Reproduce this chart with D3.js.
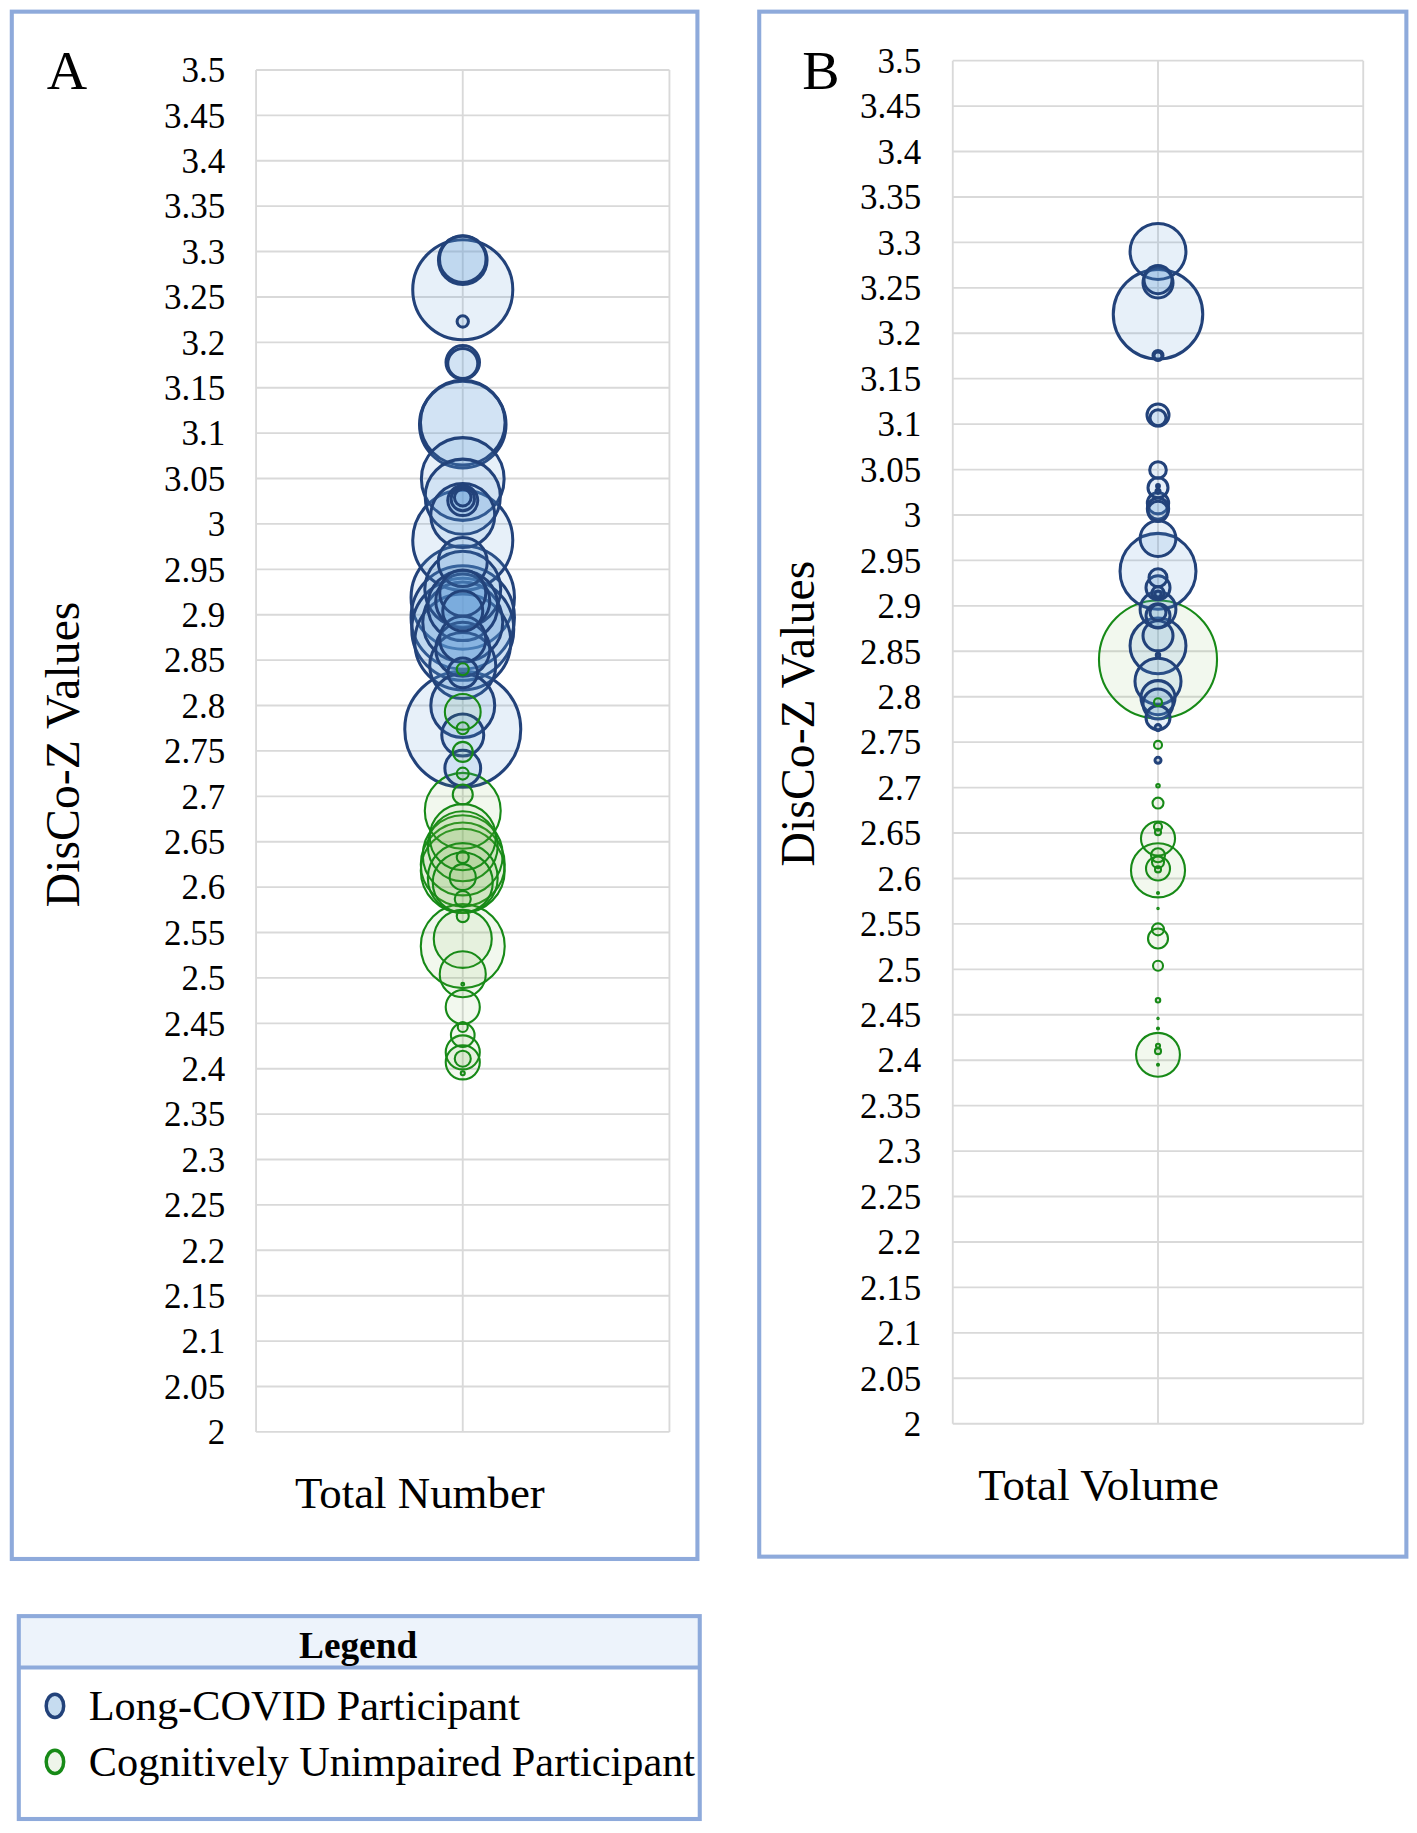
<!DOCTYPE html>
<html>
<head>
<meta charset="utf-8">
<script src="https://cdn.jsdelivr.net/npm/d3@7"></script>
<style>
  html, body { margin: 0; padding: 0; background: #ffffff; }
  svg { display: block; }
</style>
</head>
<body>
<svg id="chart"></svg>
<script>
// ---------------- DATA ----------------
const yTickLabels = ["2", "2.05", "2.1", "2.15", "2.2", "2.25", "2.3", "2.35", "2.4", "2.45",
  "2.5", "2.55", "2.6", "2.65", "2.7", "2.75", "2.8", "2.85", "2.9", "2.95",
  "3", "3.05", "3.1", "3.15", "3.2", "3.25", "3.3", "3.35", "3.4", "3.45", "3.5"];
const panelLetters = ["A", "B"];
const xCategories = ["Total Number", "Total Volume"];
const yTitle = "DisCo-Z Values";
const seriesNames = ["Long-COVID Participant", "Cognitively Unimpaired Participant"];
const legendTitle = "Legend";

// [DisCo-Z value, bubble size]
const numberLongCovid = [
  [3.2905, 59], [3.2916, 54], [3.258, 250], [3.223, 3.2], [3.178, 28], [3.1767, 22.5],
  [3.1094, 187], [3.1116, 179], [3.0495, 171], [3.030, 141], [3.0257, 22.5], [3.0275, 13.7],
  [3.029, 6.9], [3.0093, 102], [2.982, 250], [2.958, 60], [2.928, 144], [2.924, 53],
  [2.919, 267], [2.915, 73], [2.91, 122], [2.904, 40], [2.897, 267], [2.892, 160],
  [2.884, 260], [2.873, 53], [2.87, 230], [2.862, 73], [2.844, 109], [2.836, 22],
  [2.80, 102], [2.774, 336], [2.7675, 44], [2.731, 32]
];
const numberUnimpaired = [
  [2.84, 3.6], [2.793, 32], [2.775, 3.6], [2.749, 10], [2.725, 3.6], [2.702, 10],
  [2.684, 144], [2.655, 109], [2.645, 122], [2.635, 160], [2.633, 3.6], [2.625, 176],
  [2.618, 176], [2.611, 17], [2.61, 122], [2.605, 90], [2.587, 6.4], [2.568, 3.6],
  [2.543, 84], [2.535, 176], [2.504, 53], [2.493, 0.2], [2.468, 29], [2.446, 2.5],
  [2.437, 14], [2.418, 29], [2.411, 6.4], [2.407, 29], [2.395, 0.4]
];
const volumeLongCovid = [
  [3.290, 78], [3.259, 19.6], [3.2554, 22.5], [3.221, 200], [3.1756, 2.5], [3.175, 1.6],
  [3.110, 12.1], [3.107, 6.4], [3.0495, 6.9], [3.032, 0.2], [3.030, 10], [3.026, 0.4],
  [3.013, 11.4], [3.007, 11.4], [3.004, 10], [2.974, 32], [2.938, 144], [2.931, 8.1],
  [2.920, 14.4], [2.9145, 3.6], [2.913, 0.9], [2.896, 32], [2.8926, 6.4], [2.889, 14.4],
  [2.867, 22.5], [2.856, 78], [2.846, 0.3], [2.817, 53], [2.799, 29], [2.792, 22.5],
  [2.777, 14.4], [2.766, 0.9], [2.730, 0.9]
];
const volumeUnimpaired = [
  [2.841, 348], [2.794, 1.6], [2.747, 1.6], [2.702, 0.3], [2.683, 3], [2.657, 1.6],
  [2.651, 0.9], [2.644, 29], [2.6255, 4.9], [2.618, 3.6], [2.611, 14.4], [2.610, 0.9],
  [2.609, 73], [2.584, 0.1], [2.567, 0.05], [2.544, 3.6], [2.534, 10], [2.504, 2.5],
  [2.466, 0.5], [2.446, 0.05], [2.435, 0.1], [2.416, 0.4], [2.41, 0.9], [2.406, 48],
  [2.395, 0.1]
];

// ---------------- STYLE / LAYOUT ----------------
const W = 1417, H = 1833, VW = 1215, VH = 1572;
const FONT = "'Liberation Serif', 'Times New Roman', serif";
const frameColor = "#8eaadb";
const gridColor = "#d9d9d9";
const seriesStyle = [
  { stroke: "#22427a", fill: "#5b9bd5", fillOpacity: 0.15, strokeWidth: 2.6 },
  { stroke: "#178a17", fill: "#70ad47", fillOpacity: 0.09, strokeWidth: 1.8 }
];

const svg = d3.select("#chart")
  .attr("width", W).attr("height", H)
  .attr("viewBox", `0 0 ${VW} ${VH}`);

svg.append("rect").attr("x", 0).attr("y", 0).attr("width", VW).attr("height", VH).attr("fill", "#fff");

const rScale = d3.scaleSqrt().domain([0, 250]).range([0, 42.9]);
const tickValues = yTickLabels.map(Number);

const panels = [
  {
    frame: { x: 10, y: 10, w: 588, h: 1327 },
    plot: { x0: 219.5, x1: 574, y0: 60, y1: 1228 },
    tickX: 193, letter: { x: 40, y: 76 },
    yTitlePos: { x: 53, y: 647 }, xTitlePos: { x: 360, y: 1293 },
    letterText: panelLetters[0], xTitle: xCategories[0],
    series: [numberLongCovid, numberUnimpaired]
  },
  {
    frame: { x: 651, y: 10, w: 555, h: 1325 },
    plot: { x0: 817, x1: 1169, y0: 52, y1: 1221 },
    tickX: 790, letter: { x: 688, y: 76 },
    yTitlePos: { x: 684, y: 612 }, xTitlePos: { x: 942, y: 1286 },
    letterText: panelLetters[1], xTitle: xCategories[1],
    series: [volumeLongCovid, volumeUnimpaired]
  }
];

panels.forEach(p => {
  const g = svg.append("g");
  g.append("rect")
    .attr("x", p.frame.x).attr("y", p.frame.y)
    .attr("width", p.frame.w).attr("height", p.frame.h)
    .attr("fill", "#fff").attr("stroke", frameColor).attr("stroke-width", 3.5);

  const y = d3.scaleLinear().domain([2, 3.5]).range([p.plot.y1, p.plot.y0]);
  const x = d3.scaleLinear().domain([0, 2]).range([p.plot.x0, p.plot.x1]);

  // horizontal gridlines
  g.append("g").selectAll("line.h").data(tickValues).join("line")
    .attr("x1", p.plot.x0).attr("x2", p.plot.x1)
    .attr("y1", d => y(d)).attr("y2", d => y(d))
    .attr("stroke", gridColor).attr("stroke-width", 1.6);
  // vertical gridlines (x = 0, 1, 2)
  g.append("g").selectAll("line.v").data(x.ticks(2)).join("line")
    .attr("x1", d => x(d)).attr("x2", d => x(d))
    .attr("y1", p.plot.y0).attr("y2", p.plot.y1)
    .attr("stroke", gridColor).attr("stroke-width", 1.6);

  // y tick labels
  g.append("g").selectAll("text").data(yTickLabels).join("text")
    .attr("x", p.tickX).attr("y", d => y(+d))
    .attr("dy", "0.35em")
    .attr("text-anchor", "end")
    .attr("font-family", FONT).attr("font-size", 30).attr("fill", "#000")
    .text(d => d);

  // panel letter
  g.append("text").attr("x", p.letter.x).attr("y", p.letter.y)
    .attr("font-family", FONT).attr("font-size", 48).attr("fill", "#000")
    .text(p.letterText);

  // y title
  g.append("text")
    .attr("transform", `translate(${p.yTitlePos.x},${p.yTitlePos.y}) rotate(-90)`)
    .attr("text-anchor", "middle").attr("dy", "0.35em")
    .attr("font-family", FONT).attr("font-size", 41).attr("fill", "#000")
    .text(yTitle);

  // x title
  g.append("text").attr("x", p.xTitlePos.x).attr("y", p.xTitlePos.y)
    .attr("text-anchor", "middle")
    .attr("font-family", FONT).attr("font-size", 38.5).attr("fill", "#000")
    .text(p.xTitle);

  // bubbles: all series, larger drawn first
  const bubbles = [];
  p.series.forEach((s, si) => s.forEach(([z, size]) => bubbles.push({ z, size, si })));
  bubbles.sort((a, b) => b.size - a.size);
  g.append("g").selectAll("circle").data(bubbles).join("circle")
    .attr("cx", x(1))
    .attr("cy", d => y(d.z))
    .attr("r", d => rScale(d.size))
    .attr("fill", d => seriesStyle[d.si].fill)
    .attr("fill-opacity", d => seriesStyle[d.si].fillOpacity)
    .attr("stroke", d => seriesStyle[d.si].stroke)
    .attr("stroke-width", d => seriesStyle[d.si].strokeWidth);
});

// ---------------- LEGEND ----------------
const lg = svg.append("g");
const L = { x: 16, y: 1386, w: 584, h: 174, headH: 44 };
lg.append("rect").attr("x", L.x).attr("y", L.y).attr("width", L.w).attr("height", L.headH)
  .attr("fill", "#edf3fb");
lg.append("line").attr("x1", L.x).attr("x2", L.x + L.w)
  .attr("y1", L.y + L.headH).attr("y2", L.y + L.headH)
  .attr("stroke", frameColor).attr("stroke-width", 3.5);
lg.append("rect").attr("x", L.x).attr("y", L.y).attr("width", L.w).attr("height", L.h)
  .attr("fill", "none").attr("stroke", frameColor).attr("stroke-width", 3.5);
lg.append("text").attr("x", L.x + L.w / 2 - 1).attr("y", L.y + 36)
  .attr("text-anchor", "middle").attr("font-family", FONT)
  .attr("font-weight", "bold").attr("font-size", 32).attr("fill", "#000")
  .text(legendTitle);
const items = lg.selectAll("g.item").data(seriesNames).join("g")
  .attr("transform", (d, i) => `translate(${L.x + 31},${1463 + i * 48})`);
items.append("ellipse").attr("rx", 7.5).attr("ry", 10)
  .attr("fill", (d, i) => i === 0 ? "#c6dcf0" : "#eef5ea")
  .attr("stroke", (d, i) => seriesStyle[i].stroke)
  .attr("stroke-width", 3);
items.append("text").attr("x", 29).attr("y", 12)
  .attr("font-family", FONT).attr("font-size", 36.3).attr("fill", "#000")
  .text(d => d);
</script>
</body>
</html>
